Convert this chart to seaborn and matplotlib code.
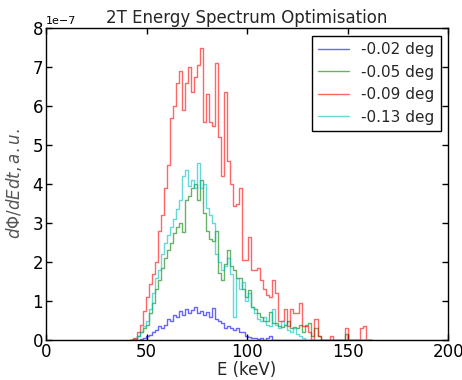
import numpy as np
import pandas as pd
import matplotlib
matplotlib.use("Agg")
import matplotlib.pyplot as plt
import seaborn as sns

# energy bins (keV), 1.5 keV wide
bin_start = 42.0
bin_width = 1.5

angles = ["-0.02 deg", "-0.05 deg", "-0.09 deg", "-0.13 deg"]
colors = ["blue", "green", "red", "c"]

# spectra in units of 1e-7
flux_002 = [0, 0, 0, 0.02, 0.05, 0.1, 0.12, 0.2, 0.25, 0.35,
            0.3, 0.4, 0.55, 0.5, 0.65, 0.6, 0.75, 0.65, 0.8, 0.7,
            0.78, 0.85, 0.7, 0.75, 0.65, 0.72, 0.6, 0.82, 0.55, 0.5,
            0.45, 0.3, 0.35, 0.3, 0.25, 0.3, 0.22, 0.2, 0.1, 0.08,
            0.05, 0.05, 0.02, 0.05, 0, 0.05, 0.1, 0, 0, 0,
            0, 0, 0, 0, 0, 0, 0, 0, 0, 0,
            0, 0, 0, 0, 0, 0, 0, 0, 0, 0,
            0, 0, 0, 0, 0, 0, 0, 0, 0, 0]
flux_005 = [0, 0.02, 0.1, 0.2, 0.3, 0.4, 0.7, 0.95, 1.3, 1.55,
            1.85, 2.1, 2.3, 2.5, 2.74, 2.9, 3.0, 2.77, 3.6, 3.7,
            3.9, 4.0, 3.6, 4.1, 3.26, 2.8, 2.6, 2.55, 2.8, 1.72,
            1.55, 1.95, 2.3, 1.9, 1.8, 1.6, 1.6, 1.3, 1.1, 1.28,
            0.85, 0.8, 0.69, 0.6, 0.5, 0.5, 0.72, 0.45, 0.43, 0.35,
            0.33, 0.4, 0.5, 0.3, 0.33, 0.3, 0.38, 0.2, 0.4, 0.43,
            0.1, 0.3, 0.1, 0, 0, 0, 0, 0, 0, 0,
            0, 0.15, 0, 0, 0, 0, 0, 0, 0, 0]
flux_009 = [0, 0.05, 0.2, 0.4, 0.75, 1.1, 1.45, 1.7, 2.0, 2.8,
            3.2, 3.9, 4.5, 5.7, 6.0, 6.6, 6.9, 5.9, 6.6, 7.0,
            6.35, 6.75, 7.05, 7.5, 5.6, 6.3, 5.6, 5.5, 7.1, 5.2,
            4.2, 6.35, 4.6, 4.0, 3.45, 3.5, 3.9, 2.05, 2.05, 2.65,
            1.8, 1.8, 1.85, 1.55, 1.3, 1.15, 1.1, 1.55, 1.2, 0.5,
            0.5, 0.8, 0.35, 0.8, 0.7, 0.7, 0.95, 0.35, 0.35, 0.2,
            0, 0.55, 0.1, 0, 0, 0, 0.1, 0, 0, 0,
            0, 0.3, 0, 0, 0, 0, 0.3, 0.35, 0, 0]
flux_013 = [0, 0.02, 0.1, 0.2, 0.35, 0.5, 0.8, 1.2, 1.6, 1.8,
            2.2, 2.5, 2.7, 2.9, 3.1, 3.35, 3.6, 4.2, 4.35, 3.95,
            4.1, 3.9, 4.55, 3.9, 4.0, 3.4, 3.2, 3.0, 2.2, 2.0,
            1.8, 1.9, 2.1, 1.7, 0.6, 1.6, 1.3, 1.5, 1.0, 1.2,
            0.85, 0.7, 0.55, 0.5, 0.6, 0.4, 0.35, 0.8, 0.4, 0.3,
            0.5, 0.4, 0.25, 0.2, 0.3, 0.15, 0.1, 0.05, 0, 0,
            0, 0, 0, 0, 0, 0, 0, 0, 0, 0,
            0, 0, 0, 0, 0, 0, 0, 0, 0, 0]

spectra = [flux_002, flux_005, flux_009, flux_013]

n_bins = len(flux_002)
bin_end = bin_start + bin_width * n_bins
centres = bin_start + bin_width * (np.arange(n_bins) + 0.5)

sns.set_style("ticks")
plt.rcParams["font.family"] = ["DejaVu Sans"]
plt.rcParams["mathtext.fontset"] = "dejavusans"
plt.rcParams["xtick.direction"] = "in"
plt.rcParams["ytick.direction"] = "in"
plt.rcParams["xtick.top"] = True
plt.rcParams["ytick.right"] = True

fig = plt.figure(figsize=(4.62, 3.80), dpi=100)
ax = fig.add_axes([0.0996, 0.105, 0.8706, 0.821])

for label, color, flux in zip(angles, colors, spectra):
    df = pd.DataFrame({"E": centres, "w": np.array(flux) * 1e-7})
    sns.histplot(data=df, x="E", weights="w", binwidth=bin_width,
                 binrange=(bin_start, bin_end), element="step",
                 fill=False, color=color, alpha=0.6, linewidth=1.0,
                 label=label, ax=ax)

ax.set_xlim(0, 200)
ax.set_ylim(0, 8e-7)
ax.set_xticks([0, 50, 100, 150, 200])
ax.set_yticks(np.arange(0, 9) * 1e-7)
ax.tick_params(labelsize=12, length=4, width=1, colors="black", pad=2)
for s in ax.spines.values():
    s.set_linewidth(1.0)
    s.set_color("black")
ax.yaxis.get_offset_text().set_fontsize(8)

ax.set_title("2T Energy Spectrum Optimisation", fontsize=12, pad=4)
ax.set_xlabel("E (keV)", fontsize=12, labelpad=0)
ax.set_ylabel(r"$d\Phi/dEdt,a.u.$", fontsize=12, color="#555555", labelpad=6)

ax.legend(loc="upper right", fontsize=11, fancybox=False, framealpha=1,
          edgecolor="black", handlelength=2.0)

fig.savefig("out.png", dpi=100)
